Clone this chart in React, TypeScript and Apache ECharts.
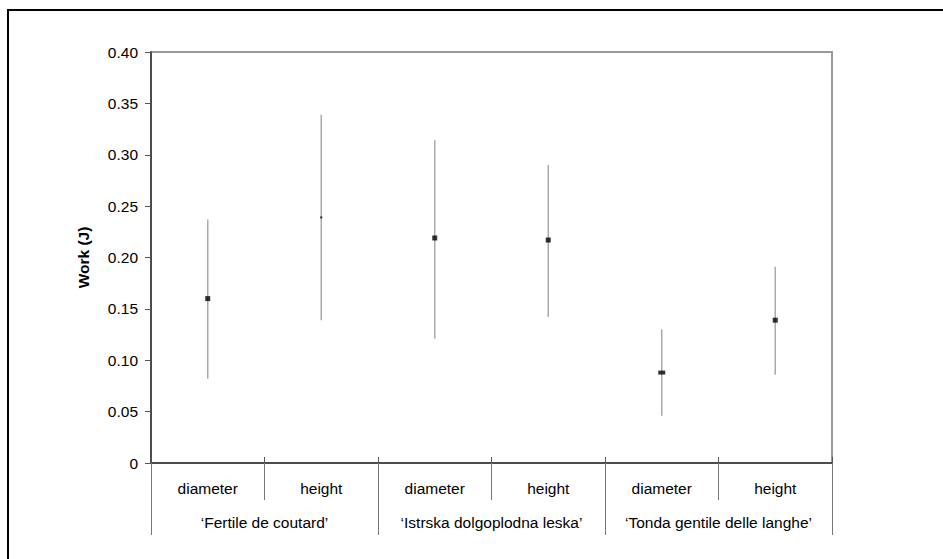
import React, { useEffect, useRef } from "react";
import * as echarts from "echarts";

const categories = ["diameter", "height", "diameter", "height", "diameter", "height"];
const groups = ["‘Fertile de coutard’", "‘Istrska dolgoplodna leska’", "‘Tonda gentile delle langhe’"];
const means = [0.160, 0.239, 0.219, 0.217, 0.088, 0.139];
const highs = [0.237, 0.339, 0.314, 0.290, 0.130, 0.191];
const lows = [0.082, 0.139, 0.121, 0.142, 0.046, 0.086];
const yTicks = { min: 0, max: 0.4, interval: 0.05 };

const markerSizes = [[5, 5], [2, 2], [5, 5], [5, 5], [7, 4], [5, 5]];

const FONT = "'Liberation Sans', Arial, sans-serif";
const FS = 15.5;

export default function App() {
  const ref = useRef<HTMLDivElement>(null);
  useEffect(() => {
    if (!ref.current) return;
    const chart = echarts.init(ref.current, null, { renderer: "svg" });
    const errData = categories.map((_, i) => [i, lows[i], highs[i]]);
    const meanData = categories.map((_, i) => [i, means[i]]);
    chart.setOption({
      animation: false,
      backgroundColor: "#fff",
      textStyle: { fontFamily: FONT },
      graphic: [
        {
          type: "rect",
          shape: { x: 8, y: 10, width: 980, height: 600 },
          style: { fill: "none", stroke: "#000", lineWidth: 2 },
          silent: true,
        },
      ],
      grid: {
        left: 151,
        top: 52,
        right: 111,
        bottom: 96,
        show: true,
        borderColor: "#999",
        borderWidth: 2,
        backgroundColor: "transparent",
      },
      xAxis: [
        {
          type: "category",
          data: categories,
          position: "bottom",
          boundaryGap: true,
          axisLine: { show: true, lineStyle: { color: "#333", width: 1.5 } },
          axisTick: { show: true, interval: 0, length: 37, lineStyle: { color: "#777", width: 1 } },
          axisLabel: { interval: 0, margin: 17, fontSize: FS, color: "#000", fontFamily: FONT },
          splitLine: { show: false },
        },
        {
          type: "category",
          data: categories,
          position: "bottom",
          boundaryGap: true,
          axisLine: { show: false },
          axisTick: { show: true, inside: true, interval: 0, length: 6, lineStyle: { color: "#555", width: 1 } },
          axisLabel: { show: false },
          splitLine: { show: false },
        },
        {
          type: "category",
          data: groups,
          position: "bottom",
          boundaryGap: true,
          axisLine: { show: false },
          axisTick: { show: true, interval: 0, length: 72, lineStyle: { color: "#777", width: 1 } },
          axisLabel: { interval: 0, margin: 51, fontSize: FS, color: "#000", fontFamily: FONT },
          splitLine: { show: false },
        },
      ],
      yAxis: {
        type: "value",
        min: yTicks.min,
        max: yTicks.max,
        interval: yTicks.interval,
        name: "Work (J)",
        nameLocation: "middle",
        nameGap: 60,
        nameRotate: 90,
        nameTextStyle: { fontSize: FS, fontWeight: "bold", color: "#000", fontFamily: FONT },
        axisLine: { show: true, lineStyle: { color: "#333", width: 1.5 } },
        axisTick: { show: true, length: 6, lineStyle: { color: "#555", width: 1 } },
        axisLabel: {
          margin: 13,
          fontSize: FS,
          color: "#000",
          fontFamily: FONT,
          formatter: (v: number) => (v === 0 ? "0" : v.toFixed(2)),
        },
        splitLine: { show: false },
      },
      series: [
        {
          type: "custom",
          xAxisIndex: 0,
          yAxisIndex: 0,
          data: errData,
          renderItem: (params: any, api: any) => {
            const idx = api.value(0);
            const p1 = api.coord([idx, api.value(1)]);
            const p2 = api.coord([idx, api.value(2)]);
            return {
              type: "line",
              shape: { x1: p1[0], y1: p1[1], x2: p2[0], y2: p2[1] },
              style: { stroke: "#aaa", lineWidth: 1.5 },
            };
          },
        },
        {
          type: "scatter",
          xAxisIndex: 0,
          yAxisIndex: 0,
          data: meanData,
          symbol: "rect",
          symbolSize: (_v: any, p: any) => markerSizes[p.dataIndex],
          itemStyle: { color: "#000" },
          z: 5,
        },
      ],
    });
    return () => chart.dispose();
  }, []);
  return (
    <div
      ref={ref}
      style={{ position: "fixed", left: 0, top: 0, width: 943, height: 559 }}
    />
  );
}
